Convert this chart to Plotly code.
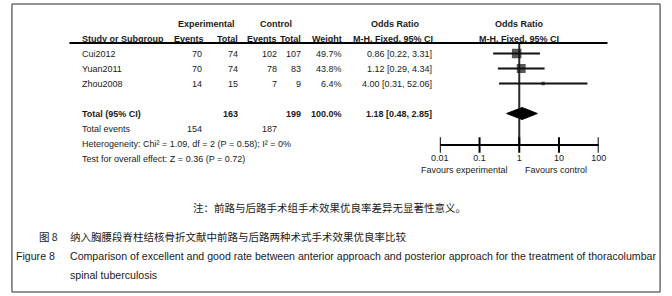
import math
import plotly.graph_objects as go

# ---------------- data ----------------
studies = ["Cui2012", "Yuan2011", "Zhou2008"]
exp_events = [70, 70, 14]
exp_total = [74, 74, 15]
ctrl_events = [102, 78, 7]
ctrl_total = [107, 83, 9]
weights = [49.7, 43.8, 6.4]
odds_ratio = [0.86, 1.12, 4.00]
ci_low = [0.22, 0.29, 0.31]
ci_high = [3.31, 4.34, 52.06]

total_label = "Total (95% CI)"
total_exp = 163
total_ctrl = 199
total_weight = 100.0
total_or = 1.18
total_low = 0.48
total_high = 2.85
total_events_exp = 154
total_events_ctrl = 187

heterogeneity = "Heterogeneity: Chi² = 1.09, df = 2 (P = 0.58); I² = 0%"
overall_test = "Test for overall effect: Z = 0.36 (P = 0.72)"

tick_vals = [0.01, 0.1, 1, 10, 100]
tick_labels = ["0.01", "0.1", "1", "10", "100"]
favours_left = "Favours experimental"
favours_right = "Favours control"

note_cn = "注：前路与后路手术组手术效果优良率差异无显著性意义。"
fig_cn_label = "图 8"
fig_cn_text = "纳入胸腰段脊柱结核骨折文献中前路与后路两种术式手术效果优良率比较"
fig_en_label = "Figure 8"
fig_en_line1 = ("Comparison of excellent and good rate between anterior approach and posterior "
                "approach for the treatment of thoracolumbar")
fig_en_line2 = "spinal tuberculosis"

# ---------------- layout constants ----------------
W, H = 672, 296
ROW0, ROWH = 53.5, 15.0          # pixel y of first study row, row height
AXIS_PX = 145                    # pixel y of forest-plot axis
RULE_PX = 43
FONT = "Liberation Sans, Arial, sans-serif"
CJK = "Noto Sans CJK SC, sans-serif"
TXT = "#1a1a1a"
FS = 9


def row_of(p):
    return (p - ROW0) / ROWH


def px(x):
    return x / W


def py(y):
    return 1 - y / H


fig = go.Figure()

n = len(studies)
rows = list(range(n))
total_row = 4
ev_row, het_row, test_row = 5, 6, 7
axis_row = row_of(AXIS_PX)
rule_row = row_of(RULE_PX)

# vertical line of no effect
fig.add_trace(go.Scatter(x=[1, 1], y=[rule_row, axis_row], mode="lines",
                         line=dict(color="#2a2a2a", width=2), hoverinfo="skip"))

# study CIs with weighted squares
fig.add_trace(go.Scatter(
    x=odds_ratio, y=rows, mode="markers",
    marker=dict(symbol="square", color="#111111",
                size=[1.35 * math.sqrt(w) for w in weights], line=dict(width=0)),
    error_x=dict(type="data", symmetric=False,
                 array=[h - o for h, o in zip(ci_high, odds_ratio)],
                 arrayminus=[o - l for o, l in zip(odds_ratio, ci_low)],
                 width=0, thickness=2, color="#111111"),
    hoverinfo="skip"))

# pooled diamond
dh = 0.4
fig.add_trace(go.Scatter(
    x=[total_low, total_or, total_high, total_or, total_low],
    y=[total_row, total_row - dh, total_row, total_row + dh, total_row],
    mode="lines", fill="toself", fillcolor="#000000",
    line=dict(color="#000000", width=1), hoverinfo="skip"))

# axis line and crossing ticks
fig.add_trace(go.Scatter(x=[tick_vals[0], tick_vals[-1]], y=[axis_row, axis_row], mode="lines",
                         line=dict(color="#000000", width=2), hoverinfo="skip"))
fig.add_trace(go.Scatter(x=tick_vals, y=[axis_row] * len(tick_vals), mode="markers",
                         marker=dict(symbol="line-ns", size=11,
                                     line=dict(color="#000000", width=2)),
                         hoverinfo="skip"))

ann = []


def T(text, x, row, anchor="left", bold=False, size=FS, font=FONT):
    if bold:
        text = "<b>" + text + "</b>"
    ann.append(dict(text=text, x=px(x), xref="paper", y=row, yref="y",
                    xanchor=anchor, yanchor="middle", showarrow=False,
                    font=dict(family=font, size=size, color=TXT)))


# headers
T("Experimental", 203, -2, "center", bold=True)
T("Control", 274, -2, "center", bold=True)
T("Odds Ratio", 397, -2, "center", bold=True)
T("Odds Ratio", 524, -2, "center", bold=True)
T("Study or Subgroup", 73, -1, bold=True)
T("Events", 202, -1, "right", bold=True)
T("Total", 237, -1, "right", bold=True)
T("Events", 277, -1, "right", bold=True)
T("Total", 302, -1, "right", bold=True)
T("Weight", 344, -1, "right", bold=True)
T("M-H, Fixed, 95% CI", 437, -1, "right", bold=True)
T("M-H, Fixed, 95% CI", 523, -1, "center", bold=True)

# study rows
for i in range(n):
    T(studies[i], 73, i)
    T(str(exp_events[i]), 200, i, "right")
    T(str(exp_total[i]), 237, i, "right")
    T(str(ctrl_events[i]), 277, i, "right")
    T(str(ctrl_total[i]), 302, i, "right")
    T(f"{weights[i]:.1f}%", 344, i, "right")
    T(f"{odds_ratio[i]:.2f} [{ci_low[i]:.2f}, {ci_high[i]:.2f}]", 436, i, "right")

# totals
T(total_label, 73, total_row, bold=True)
T(str(total_exp), 237, total_row, "right", bold=True)
T(str(total_ctrl), 302, total_row, "right", bold=True)
T(f"{total_weight:.1f}%", 344, total_row, "right", bold=True)
T(f"{total_or:.2f} [{total_low:.2f}, {total_high:.2f}]", 436, total_row, "right", bold=True)
T("Total events", 73, ev_row)
T(str(total_events_exp), 200, ev_row, "right")
T(str(total_events_ctrl), 277, ev_row, "right")
T(heterogeneity, 73, het_row)
T(overall_test, 73, test_row)

# favours labels
fav_row = row_of(170)
for text, anchor, shift in [(favours_left, "right", -9), (favours_right, "left", 4)]:
    ann.append(dict(text=text, x=math.log10(1), xref="x", y=fav_row, yref="y",
                    xanchor=anchor, yanchor="middle", xshift=shift, showarrow=False,
                    font=dict(family=FONT, size=FS, color=TXT)))


# captions (paper coords)
def C(text, x, y, anchor="left", size=10, font=FONT):
    ann.append(dict(text=text, x=px(x), xref="paper", y=py(y), yref="paper",
                    xanchor=anchor, yanchor="middle", showarrow=False,
                    font=dict(family=font, size=size, color=TXT)))


C(note_cn, 329, 207, "center", 10.5, CJK)
C(fig_cn_label, 29, 236, "left", 10.5, CJK)
C(fig_cn_text, 61, 236, "left", 10.5, CJK)
C(fig_en_label, 5, 256, "left", 10.6)
C(fig_en_line1, 61, 256, "left", 10.6)
C(fig_en_line2, 61, 275, "left", 10.6)

BORDER = dict(color="#6e6e6e", width=1.5)
bx0, bx1, by0, by1 = px(3), px(668), py(292), py(4)
shapes = [
    # header rule
    dict(type="line", xref="paper", yref="y", x0=px(62), x1=px(614), y0=rule_row, y1=rule_row,
         line=dict(color="#000000", width=2)),
    # outer border, four sides
    dict(type="line", xref="paper", yref="paper", x0=bx0, x1=bx1, y0=by1, y1=by1, line=BORDER),
    dict(type="line", xref="paper", yref="paper", x0=bx0, x1=bx1, y0=by0, y1=by0, line=BORDER),
    dict(type="line", xref="paper", yref="paper", x0=bx0, x1=bx0, y0=by0, y1=by1, line=BORDER),
    dict(type="line", xref="paper", yref="paper", x0=bx1, x1=bx1, y0=by0, y1=by1, line=BORDER),
]

fig.update_layout(
    width=W, height=H, autosize=False,
    margin=dict(l=0, r=0, t=0, b=0),
    paper_bgcolor="white", plot_bgcolor="rgba(0,0,0,0)",
    showlegend=False,
    annotations=ann, shapes=shapes,
    xaxis=dict(type="log", range=[-2, 2], domain=[px(442), px(605)],
               anchor="free", position=1 - AXIS_PX / H,
               showgrid=False, zeroline=False, showline=False,
               tickvals=tick_vals, ticktext=tick_labels, ticks="",
               tickfont=dict(family=FONT, size=FS, color=TXT), ticklabelstandoff=6),
    yaxis=dict(range=[row_of(H), row_of(0)], domain=[0, 1], visible=False,
               showgrid=False, zeroline=False, fixedrange=True),
)

fig.write_html("out.html", config={"displayModeBar": False},
               post_script="document.body.style.margin='0';")
